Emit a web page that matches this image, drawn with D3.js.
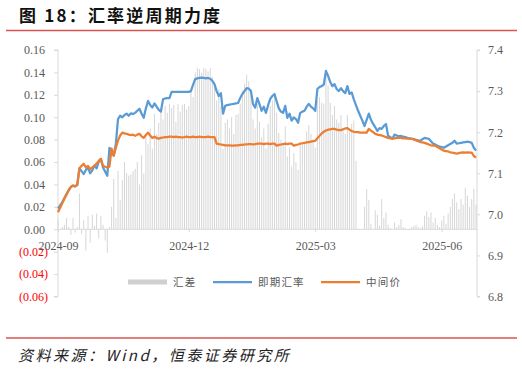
<!DOCTYPE html>
<html>
<head>
<meta charset="utf-8">
<script src="https://cdn.jsdelivr.net/npm/d3@7"></script>
<style>
  body { margin: 0; background: #fff; }
  svg { display: block; }
  .axis path, .axis line { stroke: #d9d9d9; }
  .legend text { font-family: "Noto Sans CJK SC", sans-serif; font-size: 10.5px; fill: #595959; letter-spacing: 1.2px; }
</style>
</head>
<body>
<svg id="chart"></svg>
<script>
// x axis labels (category axis, label every ~60 trading days)
const tickIndex = [0, 61, 120, 179];
const tickLabels = ["2024-09", "2024-12", "2025-03", "2025-06"];

// 即期汇率 (right axis)
const spot = [
  7.014, 7.022, 7.030, 7.040, 7.050, 7.058, 7.066, 7.070, 7.068, 7.072,
  7.112, 7.105, 7.098, 7.108, 7.114, 7.100, 7.107, 7.119, 7.112, 7.128,
  7.135, 7.114, 7.104, 7.094, 7.162, 7.150, 7.143, 7.172, 7.232, 7.240,
  7.236, 7.242, 7.245, 7.240, 7.246, 7.244, 7.247, 7.252, 7.257, 7.245,
  7.235, 7.258, 7.276, 7.266, 7.260, 7.270, 7.262, 7.254, 7.250, 7.280,
  7.282, 7.283, 7.283, 7.298, 7.298, 7.298, 7.298, 7.298, 7.298, 7.298,
  7.298, 7.298, 7.300, 7.315, 7.329, 7.331, 7.332, 7.333, 7.332, 7.331,
  7.332, 7.330, 7.325, 7.317, 7.300, 7.288, 7.295, 7.245, 7.264, 7.266,
  7.267, 7.268, 7.269, 7.270, 7.271, 7.283, 7.293, 7.300, 7.307, 7.306,
  7.300, 7.268, 7.260, 7.283, 7.268, 7.252, 7.262, 7.247, 7.265, 7.281,
  7.288, 7.293, 7.275, 7.258, 7.250, 7.247, 7.264, 7.235, 7.245, 7.228,
  7.236, 7.232, 7.223, 7.247, 7.250, 7.252, 7.262, 7.269, 7.262, 7.258,
  7.252, 7.305, 7.310, 7.312, 7.316, 7.349, 7.337, 7.322, 7.312, 7.317,
  7.305, 7.300, 7.307, 7.300, 7.295, 7.312, 7.293, 7.297, 7.280, 7.266,
  7.252, 7.240, 7.228, 7.215, 7.230, 7.245, 7.230, 7.220, 7.212, 7.203,
  7.210, 7.208, 7.215, 7.220, 7.191, 7.188, 7.184, 7.194, 7.192, 7.190,
  7.191, 7.189, 7.188, 7.186, 7.185, 7.184, 7.183, 7.181, 7.180, 7.179,
  7.183, 7.186, 7.185, 7.184, 7.178, 7.172, 7.170, 7.167, 7.165, 7.164,
  7.162, 7.165, 7.168, 7.171, 7.174, 7.179, 7.172, 7.173, 7.174, 7.175,
  7.176, 7.177, 7.176, 7.174, 7.162, 7.155
];

// 中间价 (right axis)
const mid = [
  7.005, 7.016, 7.027, 7.038, 7.048, 7.060, 7.067, 7.070, 7.068, 7.072,
  7.112, 7.118, 7.123, 7.114, 7.118, 7.110, 7.114, 7.118, 7.124, 7.130,
  7.135, 7.118, 7.116, 7.114, 7.116, 7.160, 7.143, 7.162, 7.180, 7.192,
  7.199, 7.197, 7.196, 7.194, 7.193, 7.194, 7.191, 7.194, 7.196, 7.190,
  7.186, 7.193, 7.199, 7.192, 7.186, 7.189, 7.186, 7.184, 7.186, 7.187,
  7.188, 7.188, 7.189, 7.189, 7.188, 7.189, 7.188, 7.188, 7.187, 7.188,
  7.189, 7.188, 7.188, 7.189, 7.188, 7.188, 7.189, 7.188, 7.188, 7.188,
  7.189, 7.188, 7.188, 7.188, 7.172, 7.171, 7.170, 7.169, 7.168, 7.168,
  7.168, 7.167, 7.167, 7.168, 7.168, 7.169, 7.169, 7.170, 7.170, 7.171,
  7.171, 7.170, 7.171, 7.172, 7.172, 7.172, 7.171, 7.172, 7.172, 7.171,
  7.172, 7.172, 7.167, 7.169, 7.170, 7.171, 7.172, 7.171, 7.172, 7.172,
  7.167, 7.169, 7.170, 7.172, 7.173, 7.174, 7.175, 7.176, 7.177, 7.178,
  7.179, 7.185, 7.191, 7.197, 7.201, 7.204, 7.206, 7.207, 7.208, 7.208,
  7.206, 7.205, 7.205, 7.207, 7.209, 7.210, 7.206, 7.203, 7.201, 7.200,
  7.200, 7.199, 7.199, 7.199, 7.199, 7.208, 7.204, 7.200, 7.196, 7.194,
  7.193, 7.192, 7.190, 7.188, 7.186, 7.185, 7.184, 7.185, 7.186, 7.186,
  7.186, 7.185, 7.185, 7.184, 7.184, 7.184, 7.182, 7.180, 7.178, 7.176,
  7.175, 7.174, 7.172, 7.170, 7.168, 7.167, 7.167, 7.164, 7.161, 7.158,
  7.155, 7.154, 7.153, 7.151, 7.150, 7.149, 7.148, 7.149, 7.150, 7.151,
  7.150, 7.151, 7.150, 7.150, 7.142, 7.138
];

// 汇差 (left axis, bars)
const spread = [
  0.008, 0.000, 0.002, 0.004, 0.010, 0.002, -0.005, 0.010, -0.003, 0.002,
  0.032, -0.004, 0.008, -0.019, 0.012, -0.012, 0.013, 0.003, 0.014, -0.008,
  0.012, 0.004, -0.010, -0.021, 0.002, 0.020, 0.045, 0.010, 0.052, 0.026,
  0.044, 0.060, 0.050, 0.048, 0.049, 0.052, 0.054, 0.060, 0.040, 0.066,
  0.050, 0.082, 0.076, 0.090, 0.072, 0.103, 0.085, 0.095, 0.108, 0.098,
  0.110, 0.104, 0.112, 0.108, 0.111, 0.096, 0.112, 0.105, 0.111, 0.112,
  0.107, 0.110, 0.123, 0.118, 0.140, 0.144, 0.143, 0.140, 0.144, 0.143,
  0.141, 0.144, 0.136, 0.128, 0.115, 0.125, 0.110, 0.072, 0.095, 0.098,
  0.090, 0.100, 0.085, 0.102, 0.103, 0.112, 0.124, 0.130, 0.138, 0.132,
  0.125, 0.098, 0.090, 0.112, 0.096, 0.082, 0.090, 0.072, 0.094, 0.110,
  0.115, 0.121, 0.104, 0.086, 0.080, 0.077, 0.092, 0.065, 0.073, 0.056,
  0.068, 0.060, 0.053, 0.075, 0.077, 0.078, 0.087, 0.093, 0.085, 0.080,
  0.073, 0.115, 0.118, 0.113, 0.112, 0.140, 0.128, 0.113, 0.102, 0.110,
  0.098, 0.095, 0.102, 0.090, 0.085, 0.102, 0.087, 0.094, 0.097, 0.061,
  0.000, 0.000, 0.000, 0.020, 0.036, 0.026, 0.005, 0.000, 0.017, 0.013,
  0.003, 0.027, 0.010, 0.015, 0.004, 0.001, 0.000, 0.006, 0.002, 0.004,
  0.009, 0.002, 0.001, 0.000, -0.001, 0.002, 0.003, 0.004, 0.002, 0.001,
  0.003, 0.012, 0.016, 0.011, 0.015, 0.006, 0.010, 0.004, 0.002, 0.008,
  0.012, 0.005, 0.014, 0.020, 0.027, 0.032, 0.024, 0.018, 0.027, 0.022,
  0.037, 0.030, 0.020, 0.027, 0.036, 0.022
];

const leftTicks = [0.16, 0.14, 0.12, 0.10, 0.08, 0.06, 0.04, 0.02, 0.00, -0.02, -0.04, -0.06];
const rightTicks = [7.4, 7.3, 7.2, 7.1, 7.0, 6.9, 6.8];

const width = 522, height = 369;
const plot = { left: 58, right: 477, top: 50, bottom: 296.5 };
const tickFont = '"Liberation Serif", "DejaVu Serif", serif';

const svg = d3.select("#chart").attr("width", width).attr("height", height);

// title + rules
svg.append("text")
  .attr("x", 19).attr("y", 22)
  .style("font-family", '"Noto Sans CJK SC", sans-serif')
  .style("font-size", "17px").style("font-weight", "bold")
  .style("letter-spacing", "2.2px").attr("fill", "#111")
  .text("图 18：汇率逆周期力度");

svg.append("line").attr("x1", 6).attr("x2", 517).attr("y1", 30.5).attr("y2", 30.5)
  .attr("stroke", "#d9534f").attr("stroke-width", 1.6);
svg.append("line").attr("x1", 6).attr("x2", 517).attr("y1", 338).attr("y2", 338)
  .attr("stroke", "#d9534f").attr("stroke-width", 1.6);

svg.append("text")
  .attr("x", 18).attr("y", 361)
  .style("font-family", '"Noto Sans CJK SC", sans-serif')
  .style("font-size", "15px").style("font-style", "italic")
  .style("letter-spacing", "2.5px").attr("fill", "#222")
  .text("资料来源：Wind，恒泰证券研究所");

// scales
const x = d3.scaleLinear().domain([0, spot.length - 1]).range([plot.left, plot.right - 1]);
const yL = d3.scaleLinear().domain([-0.06, 0.16]).range([plot.bottom, plot.top]);
const yR = d3.scaleLinear().domain([6.8, 7.4]).range([plot.bottom, plot.top]);

// bars
svg.append("g").selectAll("rect")
  .data(spread)
  .join("rect")
  .attr("x", (d, i) => x(i) - 0.5)
  .attr("width", 1)
  .attr("y", d => yL(Math.max(0, d)))
  .attr("height", d => Math.abs(yL(d) - yL(0)))
  .attr("fill", "#d6d6d6");

// axes
const leftAxis = svg.append("g").attr("class", "axis")
  .attr("transform", `translate(${plot.left},0)`)
  .call(d3.axisLeft(yL).tickValues(leftTicks).tickSize(4).tickPadding(9)
    .tickFormat(d => d < 0 ? `(${Math.abs(d).toFixed(2)})` : d.toFixed(2)));
leftAxis.selectAll(".tick text")
  .attr("x", d => d < 0 ? -10 : -13)
  .style("fill", d => d < 0 ? "#ff0000" : "#595959");
leftAxis.select(".domain").attr("d", `M-4,${plot.top}H0V${plot.bottom}H-4`);

const rightAxis = svg.append("g").attr("class", "axis")
  .attr("transform", `translate(${plot.right},0)`)
  .call(d3.axisRight(yR).tickValues(rightTicks).tickSize(3).tickPadding(8).tickFormat(d3.format(".1f")));
rightAxis.select(".domain").attr("d", `M3,${plot.top}H0V${plot.bottom}H3`);
rightAxis.selectAll(".tick text").style("fill", "#595959");

const bottomAxis = svg.append("g").attr("class", "axis")
  .attr("transform", `translate(0,${yL(0)})`)
  .call(d3.axisBottom(x).tickValues(tickIndex).tickSize(3).tickPadding(9)
    .tickFormat((d, i) => tickLabels[i]));
bottomAxis.select(".domain").attr("d", `M${plot.left},0H${plot.right}`);
bottomAxis.selectAll(".tick text").style("fill", "#595959");

svg.selectAll(".axis .tick text")
  .style("font-family", tickFont)
  .style("font-size", "12px");

// lines
const line = d3.line().x((d, i) => x(i)).y(d => yR(d)).curve(d3.curveLinear);

svg.append("path").datum(spot)
  .attr("d", line).attr("fill", "none")
  .attr("stroke", "#5b9bd5").attr("stroke-width", 2.25).attr("stroke-linejoin", "round");

svg.append("path").datum(mid)
  .attr("d", line).attr("fill", "none")
  .attr("stroke", "#ed7d31").attr("stroke-width", 2.25).attr("stroke-linejoin", "round");

// legend
const legend = svg.append("g").attr("class", "legend");
legend.append("rect").attr("x", 128).attr("y", 279.5).attr("width", 39).attr("height", 5).attr("fill", "#d0d0d0");
legend.append("text").attr("x", 173).attr("y", 286).text("汇差");
legend.append("line").attr("x1", 213).attr("x2", 252).attr("y1", 282).attr("y2", 282)
  .attr("stroke", "#5b9bd5").attr("stroke-width", 2.25);
legend.append("text").attr("x", 258).attr("y", 286).text("即期汇率");
legend.append("line").attr("x1", 321).attr("x2", 360).attr("y1", 282).attr("y2", 282)
  .attr("stroke", "#ed7d31").attr("stroke-width", 2.25);
legend.append("text").attr("x", 366).attr("y", 286).text("中间价");
</script>
</body>
</html>
